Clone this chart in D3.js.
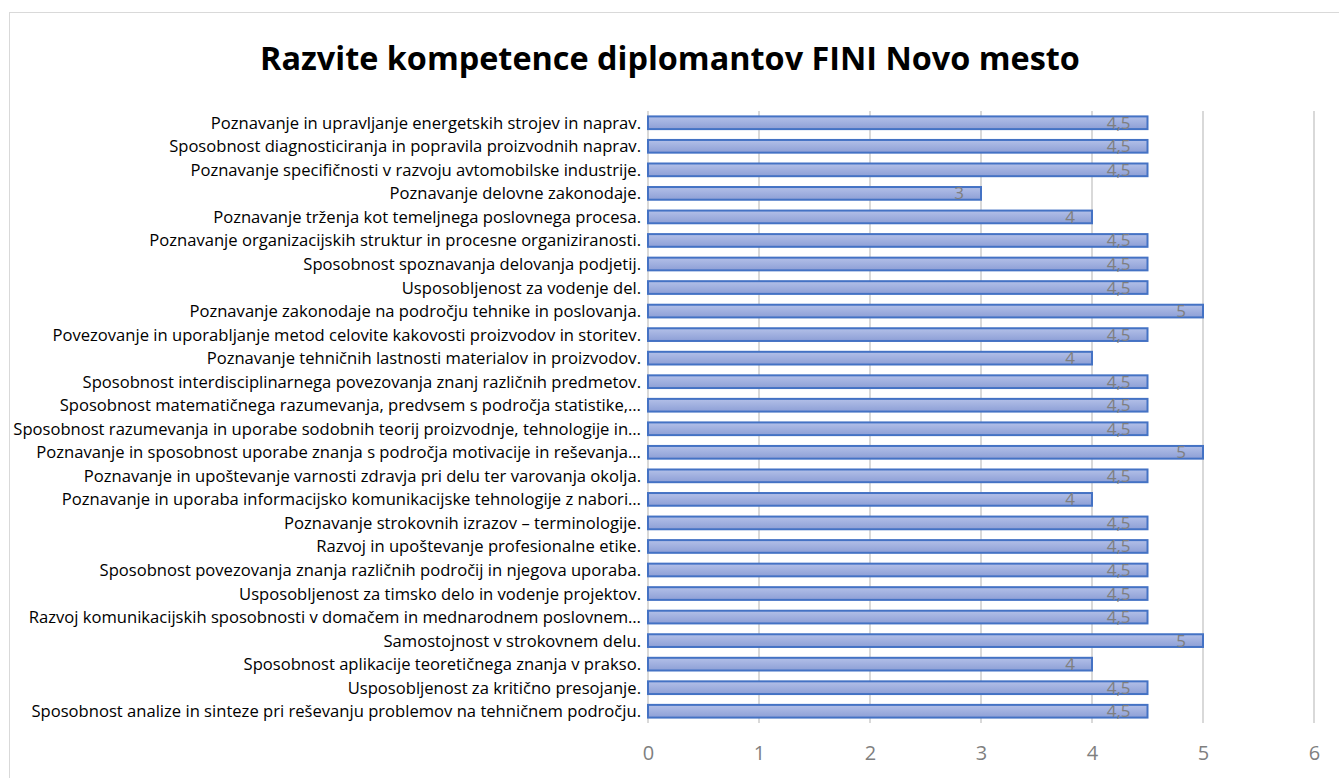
<!DOCTYPE html>
<html>
<head>
<meta charset="utf-8">
<script src="https://cdn.jsdelivr.net/npm/d3@7"></script>
<style>
  body { margin: 0; background: #fff; }
  svg { display: block; }
</style>
</head>
<body>
<div id="chart"></div>
<script>
(function () {
    // data, top to bottom as in the chart
    var categories = [
        "Poznavanje in upravljanje energetskih strojev in naprav.",
        "Sposobnost diagnosticiranja in popravila proizvodnih naprav.",
        "Poznavanje specifičnosti v razvoju avtomobilske industrije.",
        "Poznavanje delovne zakonodaje.",
        "Poznavanje trženja kot temeljnega poslovnega procesa.",
        "Poznavanje organizacijskih struktur in procesne organiziranosti.",
        "Sposobnost spoznavanja delovanja podjetij.",
        "Usposobljenost za vodenje del.",
        "Poznavanje zakonodaje na področju tehnike in poslovanja.",
        "Povezovanje in uporabljanje metod celovite kakovosti proizvodov in storitev.",
        "Poznavanje tehničnih lastnosti materialov in proizvodov.",
        "Sposobnost interdisciplinarnega povezovanja znanj različnih predmetov.",
        "Sposobnost matematičnega razumevanja, predvsem s področja statistike,…",
        "Sposobnost razumevanja in uporabe sodobnih teorij proizvodnje, tehnologije in…",
        "Poznavanje in sposobnost uporabe znanja s področja motivacije in reševanja…",
        "Poznavanje in upoštevanje varnosti zdravja pri delu ter varovanja okolja.",
        "Poznavanje in uporaba informacijsko komunikacijske tehnologije z nabori…",
        "Poznavanje strokovnih izrazov – terminologije.",
        "Razvoj in upoštevanje profesionalne etike.",
        "Sposobnost povezovanja znanja različnih področij in njegova uporaba.",
        "Usposobljenost za timsko delo in vodenje projektov.",
        "Razvoj komunikacijskih sposobnosti v domačem in mednarodnem poslovnem…",
        "Samostojnost v strokovnem delu.",
        "Sposobnost aplikacije teoretičnega znanja v prakso.",
        "Usposobljenost za kritično presojanje.",
        "Sposobnost analize in sinteze pri reševanju problemov na tehničnem področju."
    ]
    var values = [4.5, 4.5, 4.5, 3, 4, 4.5, 4.5, 4.5, 5, 4.5, 4, 4.5, 4.5,
                  4.5, 5, 4.5, 4, 4.5, 4.5, 4.5, 4.5, 4.5, 5, 4, 4.5, 4.5]
    var xTicks = [0, 1, 2, 3, 4, 5, 6]
    var title = "Razvite kompetence diplomantov FINI Novo mesto"

    var width = 1339
    var height = 778
    var margin = { top: 111, right: 25, bottom: 55, left: 648 }
    var font = "'Open Sans', 'Noto Sans', sans-serif"

    var data = categories.map(function (c, i) { return { name: c, value: values[i] }; })

    var svg = d3.select("#chart")
        .append("svg")
        .attr("width", width)
        .attr("height", height)

    // chart frame
    svg.append("rect")
        .attr("x", 9.5).attr("y", 12.5)
        .attr("width", 1340).attr("height", 800)
        .attr("fill", "#fff")
        .attr("stroke", "#d9d9d9")

    var defs = svg.append("defs")
    var grad = defs.append("linearGradient")
        .attr("id", "barFill")
        .attr("x1", 0).attr("y1", 0).attr("x2", 0).attr("y2", 1)
    grad.append("stop").attr("offset", "0%").attr("stop-color", "#b3c0e8")
    grad.append("stop").attr("offset", "100%").attr("stop-color", "#8d9fd6")

    var x = d3.scaleLinear()
        .domain([0, 6])
        .range([margin.left, margin.left + 111 * 6])

    var y = d3.scaleBand()
        .domain(categories)
        .range([margin.top, height - margin.bottom])
        .paddingInner(0.46)
        .paddingOuter(0.23)

    // gridlines
    svg.append("g")
        .selectAll("line")
        .data(xTicks)
        .enter()
        .append("line")
        .attr("x1", function (d) { return x(d); })
        .attr("x2", function (d) { return x(d); })
        .attr("y1", margin.top)
        .attr("y2", height - margin.bottom)
        .attr("stroke", "#d9d9d9")
        .attr("stroke-width", 2)

    // title
    svg.append("text")
        .attr("x", 670)
        .attr("y", 70)
        .attr("text-anchor", "middle")
        .style("font-family", font)
        .style("font-weight", "bold")
        .style("font-size", "32.4px")
        .style("fill", "#000")
        .text(title)

    // bars
    svg.append("g")
        .selectAll("rect")
        .data(data)
        .enter()
        .append("rect")
        .attr("x", x(0))
        .attr("y", function (d) { return y(d.name); })
        .attr("width", function (d) { return x(d.value) - x(0); })
        .attr("height", y.bandwidth())
        .attr("fill", "url(#barFill)")
        .attr("stroke", "#4472c4")
        .attr("stroke-width", 2)

    // value labels (inside end)
    svg.append("g")
        .selectAll("text")
        .data(data)
        .enter()
        .append("text")
        .attr("x", function (d) { return x(d.value) - 17; })
        .attr("y", function (d) { return y(d.name) + y.bandwidth() / 2 + 6; })
        .attr("text-anchor", "end")
        .style("font-family", font)
        .style("font-size", "17px")
        .style("fill", "#7f7f7f")
        .text(function (d) { return String(d.value).replace(".", ","); })

    // category labels
    svg.append("g")
        .selectAll("text")
        .data(data)
        .enter()
        .append("text")
        .attr("x", margin.left - 7)
        .attr("y", function (d) { return y(d.name) + y.bandwidth() / 2 + 6; })
        .attr("text-anchor", "end")
        .style("font-family", font)
        .style("font-size", "16.6px")
        .style("fill", "#000")
        .text(function (d) { return d.name; })

    // x axis labels
    var xAxis = d3.axisBottom(x).tickValues(xTicks).tickFormat(d3.format("d")).tickSize(0).tickPadding(0)
    var ax = svg.append("g")
        .attr("transform", "translate(0," + (height - margin.bottom + 23) + ")")
        .call(xAxis)
    ax.select(".domain").remove()
    ax.selectAll("text")
        .style("font-family", font)
        .style("font-size", "20px")
        .style("fill", "#7f7f7f")
})();
</script>
</body>
</html>
